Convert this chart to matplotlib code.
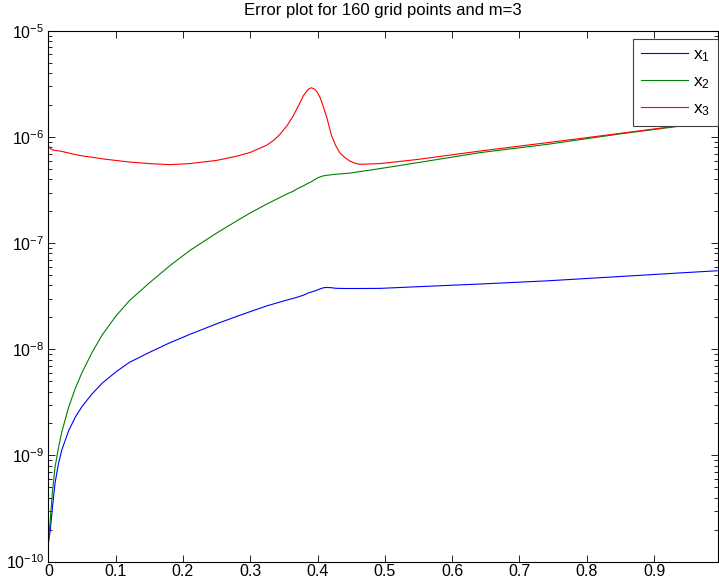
import matplotlib
matplotlib.use('Agg')
from matplotlib import pyplot as plt
import numpy as np

plt.rcParams['font.family'] = ['Liberation Sans', 'DejaVu Sans']
plt.rcParams['mathtext.fontset'] = 'custom'
plt.rcParams['mathtext.rm'] = 'Liberation Sans'
plt.rcParams['mathtext.it'] = 'Liberation Sans'

# grid positions where the errors were sampled
x = [0, 0.003, 0.006, 0.01, 0.015, 0.02, 0.03, 0.04, 0.05, 0.065,
     0.08, 0.1, 0.12, 0.15, 0.18, 0.21, 0.25, 0.28, 0.3, 0.325, 0.335, 0.344,
     0.355, 0.364, 0.372, 0.379, 0.386, 0.391, 0.396, 0.400, 0.404, 0.409,
     0.414, 0.421, 0.427, 0.433, 0.44, 0.448, 0.455, 0.463, 0.493,
     0.55, 0.641, 0.741, 0.85, 0.953, 0.99375]

# log10 of the error for each component
log_err_x1 = [-9.83, -9.70, -9.50, -9.26, -9.08, -8.95, -8.77, -8.64, -8.54, -8.42,
              -8.32, -8.215, -8.125, -8.03, -7.94, -7.86, -7.76, -7.69, -7.645, -7.59, -7.572, -7.555,
              -7.535, -7.52, -7.505, -7.49, -7.47, -7.46, -7.45, -7.44, -7.43, -7.42,
              -7.417, -7.42, -7.425, -7.426, -7.427, -7.427, -7.427, -7.427, -7.426,
              -7.41, -7.385, -7.355, -7.314, -7.275, -7.26]
log_err_x2 = [-9.83, -9.60, -9.35, -9.11, -8.93, -8.78, -8.55, -8.37, -8.22, -8.03,
              -7.865, -7.69, -7.545, -7.375, -7.215, -7.07, -6.905, -6.79, -6.715, -6.63, -6.598, -6.57,
              -6.535, -6.51, -6.48, -6.46, -6.435, -6.42, -6.40, -6.385, -6.375, -6.365,
              -6.36, -6.355, -6.35, -6.348, -6.344, -6.34, -6.333, -6.325, -6.297,
              -6.24, -6.147, -6.069, -5.97, -5.885, -5.853]
log_err_x3 = [-6.08, -6.11, -6.12, -6.125, -6.13, -6.135, -6.15, -6.165, -6.177, -6.19,
              -6.205, -6.22, -6.235, -6.25, -6.26, -6.25, -6.22, -6.18, -6.145, -6.075, -6.03, -5.975,
              -5.89, -5.80, -5.70, -5.61, -5.55, -5.535, -5.55, -5.58, -5.63, -5.72,
              -5.82, -5.99, -6.08, -6.147, -6.19, -6.226, -6.245, -6.257, -6.25,
              -6.21, -6.132, -6.053, -5.965, -5.88, -5.85]

labels = ['x$_1$', 'x$_2$', 'x$_3$']
colors = ['#0000ff', '#008000', '#ff0000']

fig = plt.figure(figsize=(7.19, 5.84), dpi=100)
ax = fig.add_axes([0.0672, 0.0385, 0.9318, 0.9085])

for err, lab, col in zip([log_err_x1, log_err_x2, log_err_x3], labels, colors):
    ax.semilogy(x, 10.0 ** np.array(err), color=col, lw=0.8, label=lab)

ax.set_xlim(0, 0.9955)
ax.set_ylim(1e-10, 1e-5)
ax.set_xticks(np.arange(0, 1.0, 0.1))
ax.set_xticklabels(['0', '0.1', '0.2', '0.3', '0.4', '0.5', '0.6', '0.7', '0.8', '0.9'])
ax.tick_params(which='both', direction='in', top=True, right=True, labelsize=11.5)
ax.tick_params(which='major', length=5, width=0.6, pad=3)
ax.tick_params(axis='x', which='major', pad=2)
ax.tick_params(which='minor', length=3, width=0.6)
ax.tick_params(axis='y', which='minor', labelleft=False)
for s in ax.spines.values():
    s.set_linewidth(0.8)

ax.set_title('Error plot for 160 grid points and m=3', fontsize=12, pad=11.5)

leg = ax.legend(loc='upper right', bbox_to_anchor=(1.0, 1 - 8 / 531.0), borderaxespad=0,
                fontsize=12.5, handlelength=2.7, labelspacing=0.6, fancybox=False,
                framealpha=1, borderpad=0.45, handletextpad=0.3)
leg.get_frame().set_edgecolor('#404040')
leg.get_frame().set_linewidth(0.8)

plt.savefig('out.png', dpi=100)
